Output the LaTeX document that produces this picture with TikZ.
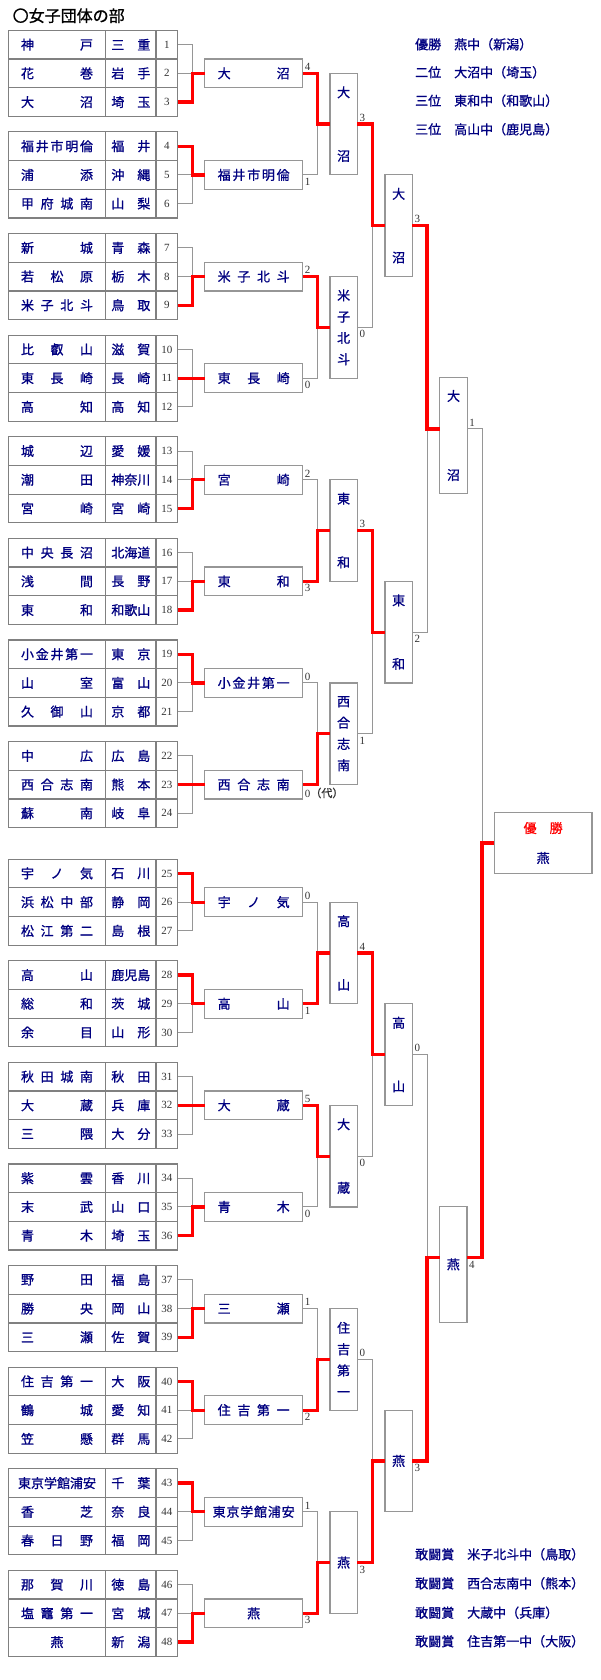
\documentclass[tikz,border=0pt]{standalone}
\usepackage{fontspec}
\setmainfont{Liberation Serif}
\newfontfamily\cjk[FakeBold=1]{Noto Sans CJK JP}
\usetikzlibrary{calc}
\definecolor{navy}{RGB}{0,0,128}
\definecolor{tgray}{RGB}{128,128,128}
\definecolor{bgray}{RGB}{150,150,150}
\definecolor{lgray}{RGB}{150,150,150}
\definecolor{numgray}{RGB}{51,51,51}
\newcommand\cjkf{\fontsize{13}{15.6}\selectfont\cjk}
\newcommand\numf{\fontsize{11}{13}\selectfont}
\newcommand\spr[2]{\hbox to #1{\spaceskip=0pt plus 1fil\relax #2}}
\newcommand\nmx[1]{\spr{72pt}{#1}}
\newcommand\prx[1]{\spr{39pt}{#1}}
\newcommand\vtw[2]{#1\\[48pt]#2}
\newcommand\vtwl[2]{#1\\[63.4pt]#2}
\newcommand\vfr[4]{#1\\[5.7pt]#2\\[5.7pt]#3\\[5.7pt]#4}
\tikzset{
  cellb/.style={draw=tgray, line width=1.2pt, inner sep=0pt, outer sep=0pt, minimum height=28.7pt, font=\cjkf, text=navy},
  namec/.style={cellb, minimum width=97.4pt},
  prefc/.style={cellb, minimum width=50.3pt},
  numc/.style={cellb, minimum width=21.7pt, font=\numf, text=numgray},
  hbox/.style={draw=bgray, fill=white, line width=1.2pt, inner sep=0pt, outer sep=0pt, minimum width=98pt, minimum height=28.7pt, font=\cjkf, text=navy},
  vbox/.style={hbox, minimum width=27.3pt, minimum height=101.6pt, align=center},
  ln/.style={draw=lgray, line width=1pt},
  win/.style={draw=red, line width=3.2pt},
  score/.style={font=\numf, text=numgray, inner sep=0.5pt},
  side/.style={anchor=west, inner sep=0pt, font=\cjkf, text=navy}
}
\newcommand\scoreup[2]{\node[score,anchor=south west] at ([xshift=1.5pt,yshift=2pt]#1) {#2};}
\newcommand\scoredn[2]{\node[score,anchor=north west] at ([xshift=1.5pt,yshift=-2.5pt]#1) {#2};}
% group: #1 index, #2..#7 names/prefs, #8 winner row, #9 round-1 name
\newcommand\grp[9]{%
  \pgfmathsetmacro\T{30.3+101.6*#1+(#1>7)*16}%
  \pgfmathtruncatemacro\na{3*#1+1}%
  \pgfmathtruncatemacro\nb{3*#1+2}%
  \pgfmathtruncatemacro\nc{3*#1+3}%
  \pgfmathtruncatemacro\nw{3*#1+#8}%
  \pgfmathsetmacro\ya{\T+14.35}%
  \pgfmathsetmacro\yb{\T+43.05}%
  \pgfmathsetmacro\yc{\T+71.75}%
  \node[namec] (m\na) at (57,\ya) {#2};
  \node[prefc] (p\na) at (130.85,\ya) {#3};
  \node[numc] (t\na) at (166.85,\ya) {\na};
  \node[namec] (m\nb) at (57,\yb) {#4};
  \node[prefc] (p\nb) at (130.85,\yb) {#5};
  \node[numc] (t\nb) at (166.85,\yb) {\nb};
  \node[namec] (m\nc) at (57,\yc) {#6};
  \node[prefc] (p\nc) at (130.85,\yc) {#7};
  \node[numc] (t\nc) at (166.85,\yc) {\nc};
  \node[hbox] (a#1) at (253.7,\yb) {#9};
  \draw[ln] (t\na.east) -- ++(15,0) |- (a#1.west);
  \draw[ln] (t\nb.east) -- ++(15,0) |- (a#1.west);
  \draw[ln] (t\nc.east) -- ++(15,0) |- (a#1.west);
  \draw[win] (t\nw.east) -- ++(15,0) |- (a#1.west);
}
\begin{document}
\begin{tikzpicture}[x=1pt,y=-1pt]
\useasboundingbox (0,0) rectangle (600,1680);
\fill[white] (0,0) rectangle (600,1680);
\node[anchor=west, inner sep=0pt, font=\fontsize{16}{18}\selectfont\cjk] (title) at (12.5,15.7) {〇女子団体の部};

\grp{0}{\nmx{神 戸}}{\prx{三 重}}{\nmx{花 巻}}{\prx{岩 手}}{\nmx{大 沼}}{\prx{埼 玉}}{3}{\nmx{大 沼}}
\grp{1}{\nmx{福 井 市 明 倫}}{\prx{福 井}}{\nmx{浦 添}}{\prx{沖 縄}}{\nmx{甲 府 城 南}}{\prx{山 梨}}{1}{\nmx{福 井 市 明 倫}}
\grp{2}{\nmx{新 城}}{\prx{青 森}}{\nmx{若 松 原}}{\prx{栃 木}}{\nmx{米 子 北 斗}}{\prx{鳥 取}}{3}{\nmx{米 子 北 斗}}
\grp{3}{\nmx{比 叡 山}}{\prx{滋 賀}}{\nmx{東 長 崎}}{\prx{長 崎}}{\nmx{高 知}}{\prx{高 知}}{2}{\nmx{東 長 崎}}
\grp{4}{\nmx{城 辺}}{\prx{愛 媛}}{\nmx{潮 田}}{神奈川}{\nmx{宮 崎}}{\prx{宮 崎}}{3}{\nmx{宮 崎}}
\grp{5}{\nmx{中 央 長 沼}}{北海道}{\nmx{浅 間}}{\prx{長 野}}{\nmx{東 和}}{和歌山}{3}{\nmx{東 和}}
\grp{6}{\nmx{小 金 井 第 一}}{\prx{東 京}}{\nmx{山 室}}{\prx{富 山}}{\nmx{久 御 山}}{\prx{京 都}}{1}{\nmx{小 金 井 第 一}}
\grp{7}{\nmx{中 広}}{\prx{広 島}}{\nmx{西 合 志 南}}{\prx{熊 本}}{\nmx{蘇 南}}{\prx{岐 阜}}{2}{\nmx{西 合 志 南}}
\grp{8}{\nmx{宇 ノ 気}}{\prx{石 川}}{\nmx{浜 松 中 部}}{\prx{静 岡}}{\nmx{松 江 第 二}}{\prx{島 根}}{1}{\nmx{宇 ノ 気}}
\grp{9}{\nmx{高 山}}{鹿児島}{\nmx{総 和}}{\prx{茨 城}}{\nmx{余 目}}{\prx{山 形}}{1}{\nmx{高 山}}
\grp{10}{\nmx{秋 田 城 南}}{\prx{秋 田}}{\nmx{大 蔵}}{\prx{兵 庫}}{\nmx{三 隈}}{\prx{大 分}}{2}{\nmx{大 蔵}}
\grp{11}{\nmx{紫 雲}}{\prx{香 川}}{\nmx{末 武}}{\prx{山 口}}{\nmx{青 木}}{\prx{埼 玉}}{3}{\nmx{青 木}}
\grp{12}{\nmx{野 田}}{\prx{福 島}}{\nmx{勝 央}}{\prx{岡 山}}{\nmx{三 瀬}}{\prx{佐 賀}}{3}{\nmx{三 瀬}}
\grp{13}{\nmx{住 吉 第 一}}{\prx{大 阪}}{\nmx{鶴 城}}{\prx{愛 知}}{\nmx{笠 懸}}{\prx{群 馬}}{1}{\nmx{住 吉 第 一}}
\grp{14}{東京学館浦安}{\prx{千 葉}}{\nmx{香 芝}}{\prx{奈 良}}{\nmx{春 日 野}}{\prx{福 岡}}{1}{\spr{82pt}{東 京 学 館 浦 安}}
\grp{15}{\nmx{那 賀 川}}{\prx{徳 島}}{\nmx{塩 竈 第 一}}{\prx{宮 城}}{燕}{\prx{新 潟}}{3}{燕}

% round 2
\node[vbox] (b0) at (343.65,124.1) {\vtw{大}{沼}};
\node[vbox] (b1) at (343.65,327.3) {\vfr{米}{子}{北}{斗}};
\node[vbox] (b2) at (343.65,530.5) {\vtw{東}{和}};
\node[vbox] (b3) at (343.65,733.7) {\vfr{西}{合}{志}{南}};
\node[vbox] (b4) at (343.65,952.9) {\vtw{高}{山}};
\node[vbox] (b5) at (343.65,1156.1) {\vtw{大}{蔵}};
\node[vbox] (b6) at (343.65,1359.3) {\vfr{住}{吉}{第}{一}};
\node[vbox] (b7) at (343.65,1562.5) {燕};
% round 3
\node[vbox] (c0) at (398.65,225.7) {\vtw{大}{沼}};
\node[vbox] (c1) at (398.65,632.1) {\vtw{東}{和}};
\node[vbox] (c2) at (398.65,1054.5) {\vtw{高}{山}};
\node[vbox] (c3) at (398.65,1460.9) {燕};
% round 4
\node[vbox, minimum height=115.6pt] (d0) at (453.5,435.5) {\vtwl{大}{沼}};
\node[vbox, minimum height=115.6pt] (d1) at (453.35,1264.3) {燕};
% final
\node[hbox, minimum width=97.7pt, minimum height=60.6pt, align=center] (f) at (543.15,843) {\textcolor{red}{優　勝}\\[14.4pt]燕};

% connectors round1 -> round2
\foreach \k in {0,...,7}{
  \pgfmathtruncatemacro\u{2*\k}
  \pgfmathtruncatemacro\v{2*\k+1}
  \draw[ln] (a\u.east) -- ++(14.6,0) |- (b\k.west);
  \draw[ln] (a\v.east) -- ++(14.6,0) |- (b\k.west);
}
\foreach \k in {0,...,3}{
  \pgfmathtruncatemacro\u{2*\k}
  \pgfmathtruncatemacro\v{2*\k+1}
  \draw[ln] (b\u.east) -- ++(15.2,0) |- (c\k.west);
  \draw[ln] (b\v.east) -- ++(15.2,0) |- (c\k.west);
}
\coordinate (m0) at ($(c0.east)!0.5!(c1.east)$);
\coordinate (m1) at ($(c2.east)!0.5!(c3.east)$);
\coordinate (d0out) at (d0.east |- m0);
\coordinate (d1out) at (d1.east |- m1);
\draw[ln] (c0.east) -- ++(14.7,0) |- (d0.west |- m0);
\draw[ln] (c1.east) -- ++(14.7,0) |- (d0.west |- m0);
\draw[ln] (c2.east) -- ++(14.7,0) |- (d1.west |- m1);
\draw[ln] (c3.east) -- ++(14.7,0) |- (d1.west |- m1);
\draw[ln] (d0out) -- ++(15,0) |- (f.west);
\draw[ln] (d1out) -- ++(15,0) |- (f.west);
% winners
\foreach \w/\k in {0/0,2/1,5/2,7/3,9/4,10/5,13/6,15/7}{
  \draw[win] (a\w.east) -- ++(14.6,0) |- (b\k.west);
}
\foreach \w/\k in {0/0,2/1,4/2,7/3}{
  \draw[win] (b\w.east) -- ++(15.2,0) |- (c\k.west);
}
\draw[win] (c0.east) -- ++(14.7,0) |- (d0.west |- m0);
\draw[win] (c3.east) -- ++(14.7,0) |- (d1.west |- m1);
\draw[win] (d1out) -- ++(15,0) |- (f.west);

% scores
\scoreup{a0.east}{4} \scoredn{a1.east}{1}
\scoreup{a2.east}{2} \scoredn{a3.east}{0}
\scoreup{a4.east}{2} \scoredn{a5.east}{3}
\scoreup{a6.east}{0} \scoredn{a7.east}{0{\cjk（代）}}
\scoreup{a8.east}{0} \scoredn{a9.east}{1}
\scoreup{a10.east}{5} \scoredn{a11.east}{0}
\scoreup{a12.east}{1} \scoredn{a13.east}{2}
\scoreup{a14.east}{1} \scoredn{a15.east}{3}
\scoreup{b0.east}{3} \scoredn{b1.east}{0}
\scoreup{b2.east}{3} \scoredn{b3.east}{1}
\scoreup{b4.east}{4} \scoredn{b5.east}{0}
\scoreup{b6.east}{0} \scoredn{b7.east}{3}
\scoreup{c0.east}{3} \scoredn{c1.east}{2}
\scoreup{c2.east}{0} \scoredn{c3.east}{3}
\scoreup{d0out}{1} \scoredn{d1out}{4}

% results
\node[side] (r1) at (415,44.3) {優勝　燕中（新潟）};
\node[side] (r2) at (415,72.3) {二位　大沼中（埼玉）};
\node[side] (r3) at (415,100.7) {三位　東和中（和歌山）};
\node[side] (r4) at (415,129.3) {三位　高山中（鹿児島）};
\node[side] (s1) at (415,1554.3) {敢闘賞　米子北斗中（鳥取）};
\node[side] (s2) at (415,1583.3) {敢闘賞　西合志南中（熊本）};
\node[side] (s3) at (415,1612.7) {敢闘賞　大蔵中（兵庫）};
\node[side] (s4) at (415,1641.3) {敢闘賞　住吉第一中（大阪）};
\end{tikzpicture}
\end{document}
